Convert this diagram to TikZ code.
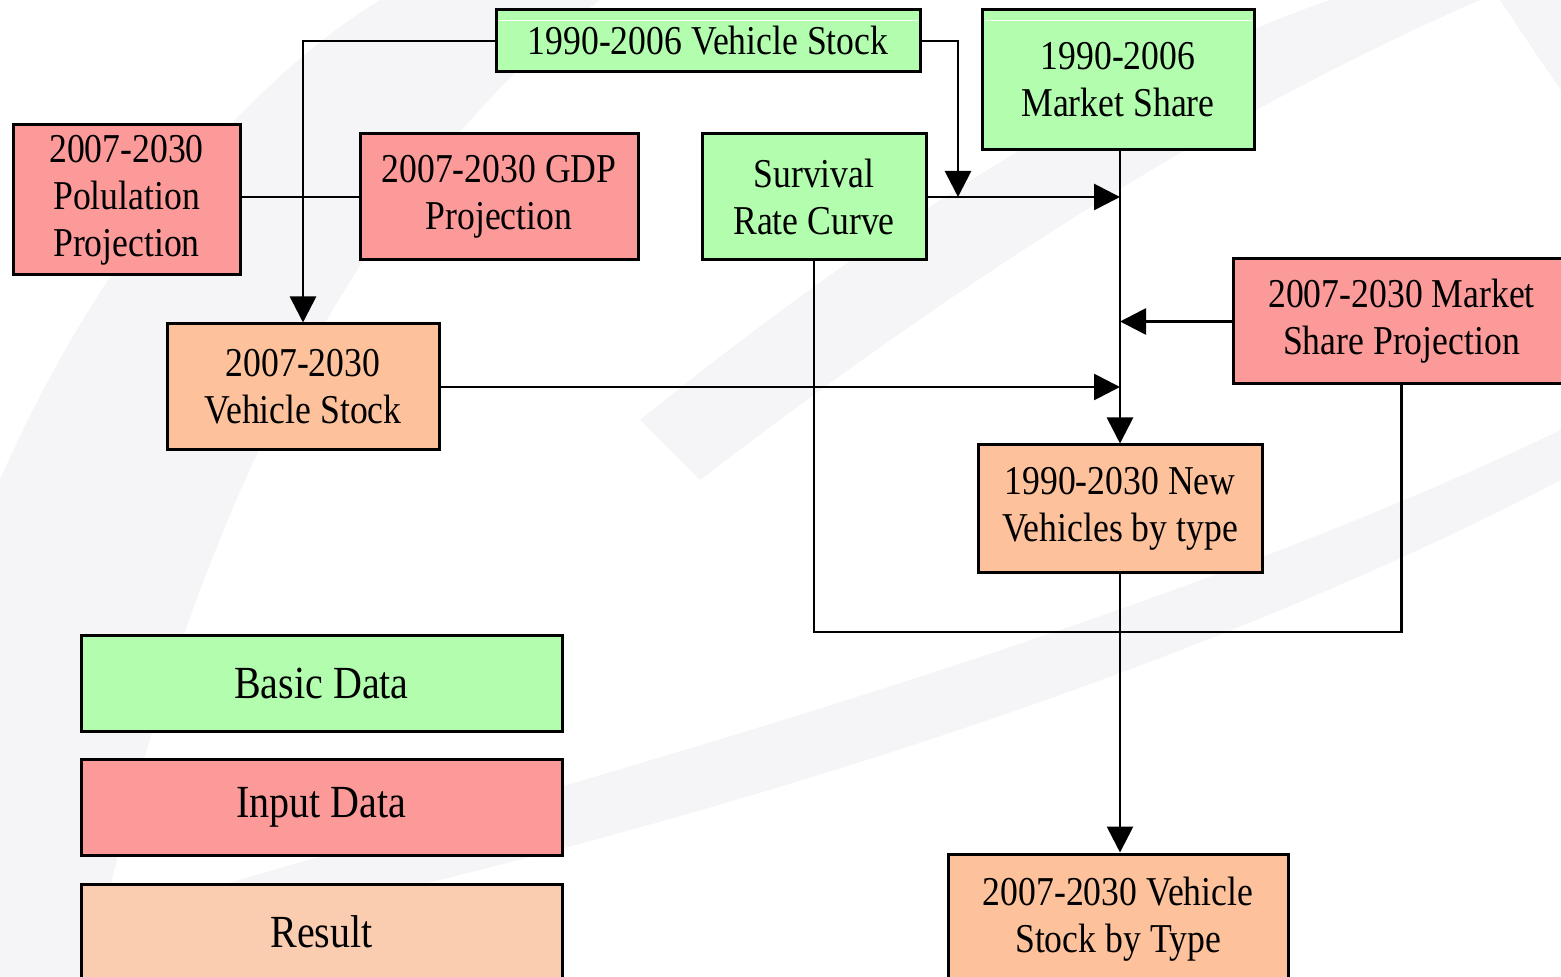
\documentclass[tikz,border=0pt]{standalone}
\usepackage{fontspec}
\setmainfont{Liberation Serif}[FakeStretch=0.87]
\usetikzlibrary{arrows.meta}
\definecolor{basicgreen}{HTML}{B2FDAE}
\definecolor{inputred}{HTML}{FC9A9A}
\definecolor{resultorange}{HTML}{FDC29C}
\definecolor{resultlight}{HTML}{FBCDB0}
\definecolor{swoosh}{HTML}{F5F5F7}
\begin{document}
\begin{tikzpicture}[x=0.5pt,y=-0.5pt,
  box/.style={draw=black, line width=1.5pt, inner sep=0pt, align=center,
    font=\fontsize{20.5}{23.5}\selectfont},
  basic/.style={box, fill=basicgreen},
  input/.style={box, fill=inputred},
  result/.style={box, fill=resultorange},
  legendbox/.style={box, font=\fontsize{23}{26}\selectfont, minimum width=240.5pt, minimum height=48pt},
  conn/.style={line width=1.4pt},
  arr/.style={conn, -{Triangle[length=13pt,width=13pt]}}]
\useasboundingbox (0,0) rectangle (1561,977);
\clip (0,0) rectangle (1561,977);
\fill[white] (0,0) rectangle (1561,977);
% background swooshes
\fill[swoosh] (0,480) .. controls (100,250) and (250,80) .. (380,0) -- (600,0)
  .. controls (400,150) and (200,450) .. (90,977) -- (0,977) -- cycle;
\fill[swoosh] (640,420) .. controls (850,250) and (1100,80) .. (1330,0) -- (1480,0)
  .. controls (1250,100) and (1000,250) .. (700,480) -- cycle;
\fill[swoosh] (0,950) .. controls (500,800) and (1100,650) .. (1561,430) -- (1561,480)
  .. controls (1100,720) and (500,880) .. (0,977) -- cycle;
\fill[swoosh] (1500,0) -- (1561,0) -- (1561,90) .. controls (1540,60) and (1520,30) .. (1500,0) -- cycle;

% nodes
\node[basic, minimum width=212pt, minimum height=31pt] (vs1) at (708,41) {1990-2006 Vehicle Stock};
\node[basic, minimum width=136pt, minimum height=70pt] (ms1) at (1118,80) {1990-2006\\Market Share};
\node[input, minimum width=113.5pt, minimum height=75pt] (pop) at (126.5,200) {2007-2030\\Polulation\\Projection};
\node[input, minimum width=139pt, minimum height=63pt] (gdp) at (499,197) {2007-2030 GDP\\Projection};
\node[basic, minimum width=112pt, minimum height=63pt] (surv) at (814,197) {Survival\\Rate Curve};
\node[input, minimum width=168.5pt, minimum height=62.5pt] (msp) at (1401.5,321.5) {2007-2030 Market\\Share Projection};
\node[result, minimum width=136pt, minimum height=63pt] (vs2) at (303,387) {2007-2030\\Vehicle Stock};
\node[result, minimum width=142pt, minimum height=63.5pt] (nv) at (1120,508.5) {1990-2030 New\\Vehicles by type};
\node[result, minimum width=170pt, minimum height=65pt] (fin) at (1118,919) {2007-2030 Vehicle\\Stock by Type};

% green highlight lines
\draw[white, line width=0.6pt] ([xshift=2pt,yshift=-6pt]vs1.north west) -- ([xshift=-2pt,yshift=-6pt]vs1.north east);
\draw[white, line width=0.6pt] ([xshift=2pt,yshift=-6pt]ms1.north west) -- ([xshift=-2pt,yshift=-6pt]ms1.north east);

% legend
\node[legendbox, fill=basicgreen] (lg1) at (321.5,683) {Basic Data};
\node[legendbox, fill=inputred] (lg2) at (321.5,807.5) {Input Data};
\node[legendbox, fill=resultlight] (lg3) at (321.5,932) {Result};

% connectors
\coordinate (j1) at (958,197);
\coordinate (lp) at (1120,632);
\draw[arr] (vs1.west) -| (vs2.north);
\draw[conn] (gdp.west -| pop.east) -- (gdp.west);
\draw[arr] (vs1.east) -| (j1);
\draw[arr] (surv.east) -- (surv.east -| nv.north);
\draw[arr] (msp.west) -- (msp.west -| nv.north);
\draw[arr] (vs2.east) -- (vs2.east -| nv.north);
\draw[arr] (ms1.south -| nv.north) -- (nv.north);
\draw[conn] (surv.south) |- (lp) -| (msp.south);
\draw[arr] (nv.south) -- (nv.south |- fin.north);
\end{tikzpicture}
\end{document}
